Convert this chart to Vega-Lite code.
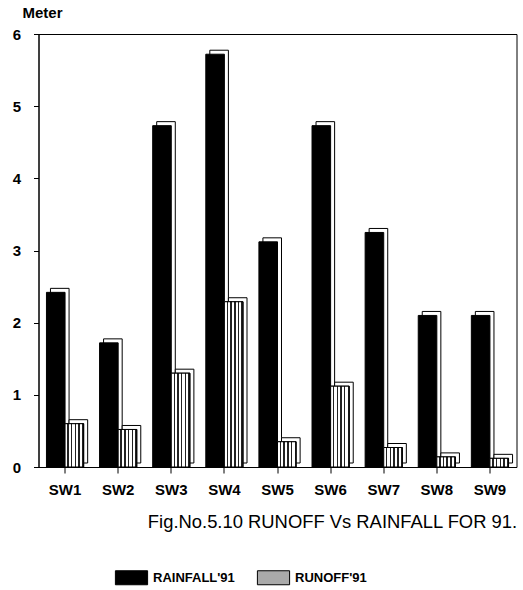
{
  "$schema": "https://vega.github.io/schema/vega-lite/v6.json",
  "width": 478,
  "height": 433,
  "autosize": "none",
  "padding": {"left": 38.5, "top": 34, "right": 6.5, "bottom": 123},
  "background": "white",
  "data": {
    "values": [
      {"site": "SW1", "series": "RAINFALL'91", "value": 2.42},
      {"site": "SW1", "series": "RUNOFF'91", "value": 0.6},
      {"site": "SW2", "series": "RAINFALL'91", "value": 1.72},
      {"site": "SW2", "series": "RUNOFF'91", "value": 0.52},
      {"site": "SW3", "series": "RAINFALL'91", "value": 4.73},
      {"site": "SW3", "series": "RUNOFF'91", "value": 1.3},
      {"site": "SW4", "series": "RAINFALL'91", "value": 5.72},
      {"site": "SW4", "series": "RUNOFF'91", "value": 2.29},
      {"site": "SW5", "series": "RAINFALL'91", "value": 3.12},
      {"site": "SW5", "series": "RUNOFF'91", "value": 0.35},
      {"site": "SW6", "series": "RAINFALL'91", "value": 4.73},
      {"site": "SW6", "series": "RUNOFF'91", "value": 1.12},
      {"site": "SW7", "series": "RAINFALL'91", "value": 3.25},
      {"site": "SW7", "series": "RUNOFF'91", "value": 0.27},
      {"site": "SW8", "series": "RAINFALL'91", "value": 2.1},
      {"site": "SW8", "series": "RUNOFF'91", "value": 0.14},
      {"site": "SW9", "series": "RAINFALL'91", "value": 2.1},
      {"site": "SW9", "series": "RUNOFF'91", "value": 0.12}
    ]
  },
  "encoding": {
    "x": {
      "field": "site",
      "type": "nominal",
      "sort": null,
      "scale": {"paddingInner": 0.3, "paddingOuter": 0.15},
      "axis": {
        "title": "Fig.No.5.10 RUNOFF Vs RAINFALL FOR 91.",
        "labelAngle": 0,
        "tickSize": 6,
        "labelPadding": 9,
        "labelFontSize": 15,
        "labelFontWeight": "bold",
        "labelColor": "black",
        "titleFontSize": 18.4,
        "titleFontWeight": "normal",
        "titleColor": "black",
        "titleX": 293.5,
        "titleY": 60,
        "titleBaseline": "alphabetic",
        "domainColor": "black",
        "tickColor": "black"
      }
    },
    "y": {
      "field": "value",
      "type": "quantitative",
      "scale": {"domain": [0, 6]},
      "axis": {
        "title": "Meter",
        "titleAngle": 0,
        "titleAlign": "left",
        "titleBaseline": "alphabetic",
        "titleX": -16.5,
        "titleY": -17,
        "titleFontSize": 15,
        "titleFontWeight": "bold",
        "titleColor": "black",
        "values": [0, 1, 2, 3, 4, 5, 6],
        "grid": false,
        "tickSize": 5,
        "labelPadding": 13,
        "labelFontSize": 15,
        "labelFontWeight": "bold",
        "labelColor": "black",
        "domainColor": "black",
        "tickColor": "black"
      }
    }
  },
  "layer": [
    {
      "mark": {"type": "bar", "fill": "white", "stroke": "black", "strokeWidth": 1, "yOffset": -4},
      "encoding": {
        "xOffset": {"field": "series", "sort": ["RAINFALL'91", "RUNOFF'91"], "scale": {"range": [4, 41.2]}}
      }
    },
    {
      "mark": {"type": "bar", "stroke": "black", "strokeWidth": 1},
      "encoding": {
        "xOffset": {"field": "series", "sort": ["RAINFALL'91", "RUNOFF'91"]},
        "color": {
          "field": "series",
          "type": "nominal",
          "scale": {"domain": ["RAINFALL'91", "RUNOFF'91"], "range": ["#000000", "#aaaaaa"]},
          "legend": {
            "title": null,
            "orient": "none",
            "legendX": 85.5,
            "legendY": 536,
            "direction": "horizontal",
            "symbolType": "M-2.3,-1H2.3V1H-2.3Z",
            "symbolSize": 196,
            "symbolStrokeColor": "black",
            "symbolStrokeWidth": 1,
            "symbolOpacity": 1,
            "labelFontSize": 13,
            "labelFontWeight": "bold",
            "labelColor": "black",
            "labelOffset": 14,
            "columnPadding": 20,
            "padding": 0
          }
        }
      }
    },
    {
      "transform": [{"filter": "datum.series == \"RUNOFF'91\""}],
      "mark": {
        "type": "bar",
        "stroke": "black",
        "strokeWidth": 1,
        "fill": {
          "gradient": "linear",
          "x1": 0, "y1": 0, "x2": 1, "y2": 0,
          "stops": [
            {"offset": 0, "color": "white"},
            {"offset": 0.12, "color": "white"},
            {"offset": 0.12, "color": "#222222"},
            {"offset": 0.2, "color": "#222222"},
            {"offset": 0.2, "color": "white"},
            {"offset": 0.32, "color": "white"},
            {"offset": 0.32, "color": "#222222"},
            {"offset": 0.4, "color": "#222222"},
            {"offset": 0.4, "color": "white"},
            {"offset": 0.52, "color": "white"},
            {"offset": 0.52, "color": "#222222"},
            {"offset": 0.6, "color": "#222222"},
            {"offset": 0.6, "color": "white"},
            {"offset": 0.72, "color": "white"},
            {"offset": 0.72, "color": "#222222"},
            {"offset": 0.8, "color": "#222222"},
            {"offset": 0.8, "color": "white"},
            {"offset": 0.92, "color": "white"},
            {"offset": 0.92, "color": "#222222"},
            {"offset": 1, "color": "#222222"}
          ]
        }
      },
      "encoding": {
        "xOffset": {"field": "series", "sort": ["RAINFALL'91", "RUNOFF'91"], "scale": {"domain": ["RAINFALL'91", "RUNOFF'91"]}}
      }
    }
  ],
  "resolve": {"scale": {"xOffset": "independent"}},
  "config": {
    "font": "Liberation Sans",
    "view": {"stroke": "black", "strokeWidth": 1}
  }
}
